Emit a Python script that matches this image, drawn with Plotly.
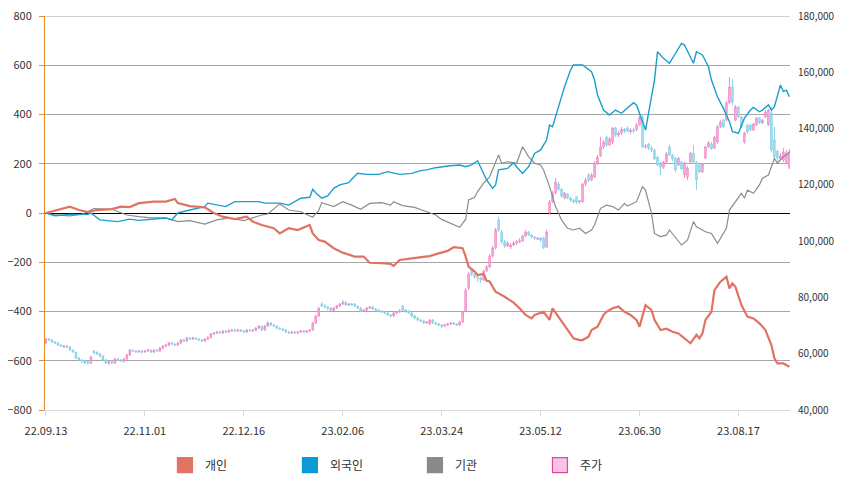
import plotly.graph_objects as go

# ---------------- data ----------------
tick_idx = [0, 33, 66, 99, 132, 165, 198, 231]
tick_labels = ["22.09.13", "22.11.01", "22.12.16", "23.02.06", "23.03.24", "23.05.12", "23.06.30", "23.08.17"]

# stock price candles (one per trading day, index 0..248)
opens = [
63800,65200,64900,64200,63800,63100,62400,62700,62400,61300,
60600,58500,57800,57400,57100,56700,61000,60600,60000,59200,
57800,56700,57100,56700,58100,57800,57400,58100,59500,61300,
61000,60600,61000,60600,61000,61300,60600,61300,61000,62000,
62700,63100,63800,63400,63100,63800,64900,64500,65600,65200,
65600,65200,64900,64500,65200,65600,67000,67400,67700,67400,
68100,67700,68100,68400,68100,68400,68100,67700,68400,68100,
68400,69100,69800,68400,69800,70900,70200,69800,69100,68800,
68400,67700,67400,67700,67400,67700,68100,67700,68100,68400,
70900,73400,77700,77000,76600,76200,75200,76200,77000,77700,
78300,77300,77700,77700,76900,76200,75200,75500,76200,76600,
75900,75500,75200,74800,74500,73800,73400,74500,74800,76900,
75500,75200,74500,73400,72700,72000,71600,70900,70600,72000,
70900,70600,70200,69800,70200,70600,70900,70600,70200,71300,
75200,83300,89700,88300,87300,86900,86200,89400,90800,94700,
97600,107500,103200,99700,98300,97900,98600,99300,99700,100100,
101800,103200,102200,101500,100700,101100,101100,97900,110000,113900,
117100,120300,118500,115300,116700,115300,114600,115700,113900,114000,
120300,123500,121700,122800,127800,130300,133500,137000,134200,135200,
140200,137700,138400,139800,140200,138800,139500,139500,141300,144100,
133500,134500,133100,132400,129900,127500,126300,128100,133500,130600,
129500,127100,128100,123500,122800,128100,131300,128000,127100,124600,
129500,133500,134600,133100,135200,140600,143000,143000,149100,154800,
143000,147700,144100,135200,141300,141300,139500,141300,143800,142000,
144100,141300,145500,136000,132000,129200,128800,128000,126300]

closes = [
65200,64900,64200,63800,63100,62700,62700,62400,61300,60600,
58500,57800,57400,56700,56700,58800,60300,60000,59200,57800,
56700,57100,56700,58100,57800,57400,58100,59500,61300,61000,
60600,61000,60600,61000,61300,60600,61300,61000,62000,62700,
63100,63800,63400,63100,63800,64900,64500,65600,65200,65600,
65200,64900,64500,65200,65600,67000,67400,67700,67400,68100,
67700,68100,68400,68100,68400,68100,67700,68400,68100,68400,
69100,69800,68400,69800,70900,70200,69800,69100,68800,68400,
67700,67400,67700,67400,67700,68100,67700,68100,68400,70900,
73400,76200,77000,76600,76200,75500,76200,77000,77700,78300,
77300,77700,77300,76900,76200,75200,75500,76200,76600,75900,
75500,75200,74800,74500,73800,73400,74500,74800,75200,75500,
75200,74500,73400,72700,72000,71600,70900,71300,72000,70900,
70600,70200,69800,70200,70600,70900,70600,70200,71300,74800,
82600,88300,88300,87300,86900,86200,89400,90800,94700,97600,
104000,104000,99700,98300,99300,98600,99300,99700,100100,101800,
103200,102200,101500,101100,101100,100400,97600,103200,113900,117100,
121000,118500,116000,117100,115300,114600,113900,113900,114300,120300,
121700,121700,123500,127800,129900,133500,135200,134200,136300,140200,
137700,138400,139800,139100,139100,139500,139100,141300,143800,133500,
133800,133100,132400,129200,127100,126300,128100,131000,130600,129200,
125300,129500,125600,127800,126000,131300,128100,121700,124600,127500,
133500,134900,132800,137000,140600,142300,140600,149100,154800,149400,
147700,144100,140600,138400,138800,139500,141600,143800,142000,143000,
145900,146600,132400,129900,129500,130300,131700,131300,131700]

highs = [
65600,65600,65200,64500,64200,63400,63100,63100,62700,61600,
60600,58800,58100,57800,57400,59200,61300,60600,60300,59500,
58100,57400,57800,58500,58500,58100,58500,59900,61600,61600,
61300,61300,61300,61300,61600,61600,61600,61600,62400,63100,
63400,64200,64200,63800,64200,65200,65200,66000,66000,66000,
65900,65600,65200,65600,66300,67400,67700,68100,68100,68400,
68400,68800,68800,68800,68800,68800,68400,68800,68800,68800,
69500,70200,69800,70200,71600,71300,70600,70200,69500,69100,
68800,68100,68100,68100,68100,68400,68400,68400,68800,71300,
73800,76600,78300,77700,77000,76600,76600,77300,78000,79000,
78700,78000,78000,78000,77300,76600,75900,76600,77000,77000,
76200,75900,75500,75200,74800,74100,74800,75200,75900,77300,
75900,75500,74800,73800,73000,72300,72000,71600,72300,72300,
71300,70900,70600,70600,70900,71300,71300,70900,71600,75200,
83300,89000,90400,88600,88000,87300,89700,91500,95400,98300,
104700,108600,104000,100400,100100,99300,100100,100400,101100,102200,
103900,103600,102500,101800,101500,101500,101500,104000,114600,117800,
122400,121000,118900,117500,117100,115700,115000,116000,114600,120700,
122400,124200,124200,128500,130600,137000,135900,137400,137000,140600,
140600,139100,140600,140200,140900,140200,140200,142000,144500,145200,
134500,134900,133800,132800,130300,128100,128500,131700,134200,131000,
129900,129900,128500,128100,126700,131700,134200,128500,127500,127800,
133800,135500,135200,137400,141300,143000,143400,149800,158300,157600,
148400,148100,144500,138800,141600,141600,142000,144100,144100,143400,
146600,147000,147700,140600,132400,131300,133100,132400,132800]

lows = [
63400,64500,63800,63400,62700,62400,62000,62000,61000,60300,
58100,57400,56700,56300,56000,56300,59900,59500,58800,57400,
56300,56000,56300,56300,57400,57100,56700,57800,59200,60600,
60300,60300,60000,60300,60600,60300,60300,60600,60600,61600,
62400,62700,63100,62700,62700,63400,64200,64200,64900,64900,
64900,64500,64200,64200,64900,65600,66700,67000,67000,67000,
67400,67400,67700,67700,67700,67700,67400,67400,67700,67700,
68100,68800,68100,68100,69500,69800,69500,68800,68400,68100,
67400,67000,67000,67000,67000,67400,67400,67400,67700,68100,
70600,73000,76600,76200,75500,75200,74800,75900,76600,77300,
77000,77000,77000,76600,75900,74800,74800,75200,75900,75500,
75200,74800,74500,74100,73400,73000,73000,74100,74500,75200,
74500,74100,73000,72300,71600,71300,70600,70600,70200,70600,
70200,69800,69100,69500,69800,70200,70200,69800,69800,71000,
74800,82600,87600,86500,85500,85100,85800,89000,90400,94300,
97200,103200,99000,97600,97900,97200,98300,98600,99300,99700,
101500,101800,101100,100400,100400,99700,97200,97600,109300,113500,
116700,117800,115300,114900,114900,113900,113500,113200,113200,113600,
119600,121000,121300,122400,127100,129900,132800,133500,133800,134500,
137000,137000,137700,138400,138800,138100,138400,139100,141000,133100,
132800,132400,131700,128800,126700,123500,125600,127800,130300,128500,
124600,126700,125300,122400,121700,127500,127500,118200,124200,124200,
129200,133100,132400,132800,134600,140200,140200,142700,148800,148400,
142700,143800,140200,134600,138100,139100,139100,140900,141600,141600,
143800,140900,131700,128800,128500,128800,128100,127500,125600]

# cumulative net buying (left axis), sampled at trading-day indices
ind_idx = [0,5,8,11,14,17,22,25,28,31,36,40,43,44,48,53,56,59,63,67,69,72,76,78,81,84,86,88,89,91,
           93,96,99,103,106,108,112,115,116,118,122,128,131,134,136,139,140,141,143,144,146,147,148,150,
           153,156,158,160,162,163,166,168,169,171,173,175,176,178,179,181,182,184,186,187,189,191,193,195,
           197,198,200,202,203,205,207,209,211,213,215,217,218,219,220,222,223,225,227,228,229,230,232,234,
           236,238,240,242,243,244,246,248]
ind_val = [0,16,26,12,4,12,16,26,24,40,46,46,57,40,28,23,0,-15,-25,-15,-35,-49,-62,-83,-62,-69,-58,-49,-83,-110,
           -116,-143,-161,-177,-177,-202,-204,-207,-215,-191,-184,-175,-164,-154,-139,-143,-177,-218,-238,-252,
           -248,-275,-278,-320,-340,-364,-387,-414,-428,-414,-401,-434,-387,-421,-455,-489,-509,-516,-516,-502,
           -475,-462,-414,-401,-387,-380,-401,-414,-434,-462,-374,-394,-434,-475,-470,-482,-489,-509,-529,-495,
           -509,-489,-434,-401,-313,-279,-259,-306,-286,-300,-374,-421,-428,-448,-475,-536,-590,-611,-611,-624]

for_idx = [0,3,8,14,15,18,24,28,31,40,42,44,48,53,54,60,63,71,73,78,81,83,85,88,89,90,92,94,96,98,
           101,102,104,107,111,114,118,122,125,127,130,134,138,140,142,144,146,147,149,150,151,154,156,157,
           159,161,163,165,167,168,169,170,172,173,175,176,179,182,183,184,186,188,190,192,196,197,198,200,
           201,203,204,206,208,212,213,216,217,219,221,222,224,226,228,229,231,233,235,236,238,239,241,242,
           243,245,246,247,248]
for_val = [0,-11,-6,-5,0,-28,-35,-25,-30,-20,-28,0,12,26,40,26,46,46,40,40,32,46,60,64,96,82,60,69,100,114,
           123,137,161,157,157,168,157,161,172,175,184,191,195,188,195,212,161,134,100,114,175,181,204,188,
           161,188,242,256,296,357,350,391,479,513,581,601,601,574,540,479,418,398,418,405,448,439,405,337,
           405,540,655,628,608,689,682,608,655,642,594,540,472,425,371,330,324,385,418,429,411,418,439,418,
           432,520,493,499,472]

ins_idx = [0,3,8,12,13,16,22,27,31,35,40,44,48,53,57,61,66,69,72,74,78,81,83,85,88,89,91,92,96,99,
           102,105,108,112,115,116,119,123,127,130,132,136,138,140,141,143,144,146,148,151,152,154,157,159,
           161,163,165,166,168,170,172,174,176,178,180,182,183,185,187,189,191,193,194,197,199,200,202,203,
           205,207,208,212,214,216,217,220,222,224,226,227,228,230,232,233,234,236,238,239,241,242,243,244,
           246,247,248]
ins_val = [0,-8,-12,-5,0,18,15,-8,-15,-20,-20,-35,-31,-45,-28,-20,-31,-20,-8,-4,37,12,8,5,-12,-16,10,42,26,46,
           32,15,39,42,32,46,30,23,5,-8,-26,-49,-58,-26,53,64,87,121,147,236,202,208,202,269,
           229,202,195,175,107,26,-28,-62,-69,-62,-83,-69,-49,19,32,26,12,39,28,46,107,93,0,-83,
           -96,-90,-69,-130,-110,-35,-56,-76,-83,-123,-83,-62,12,46,80,60,93,80,114,141,154,188,222,202,
           229,235,249]

left_ticks = [-800, -600, -400, -200, 0, 200, 400, 600, 800]
right_ticks = [40000, 60000, 80000, 100000, 120000, 140000, 160000, 180000]

C_IND = "#E07363"
C_FOR = "#1A9FCD"
C_INS = "#8C8C8C"
FONT = "Noto Sans CJK KR, Noto Sans, sans-serif"
GRID = "#A6A6A6"

fig = go.Figure()

# candles on the base (right) axis so they sit behind the lines
fig.add_trace(go.Candlestick(
    x=list(range(len(opens))), open=opens, high=highs, low=lows, close=closes,
    xaxis="x", yaxis="y",
    increasing=dict(line=dict(color="#F08CC8", width=1), fillcolor="#F8C3E3"),
    decreasing=dict(line=dict(color="#88D2EA", width=1), fillcolor="#B5E4F3"),
    whiskerwidth=0, showlegend=False, hoverinfo="skip"))

fig.add_trace(go.Scatter(x=ins_idx, y=ins_val, mode="lines", yaxis="y2",
                         line=dict(color=C_INS, width=1.2), showlegend=False, hoverinfo="skip"))
fig.add_trace(go.Scatter(x=for_idx, y=for_val, mode="lines", yaxis="y2",
                         line=dict(color=C_FOR, width=1.4), showlegend=False, hoverinfo="skip"))
fig.add_trace(go.Scatter(x=ind_idx, y=ind_val, mode="lines", yaxis="y2",
                         line=dict(color=C_IND, width=2.2), showlegend=False, hoverinfo="skip"))

# legend entries
for name, col, edge in [("개인", C_IND, C_IND), ("외국인", "#0A9BD6", "#0A9BD6"),
                        ("기관", "#8A8A8A", "#8A8A8A"), ("주가", "#F9C3E4", "#E0489E")]:
    fig.add_trace(go.Scatter(x=[None], y=[None], mode="markers", yaxis="y2", name=name,
                             marker=dict(symbol="square", size=15, color=col,
                                         line=dict(color=edge, width=1.2))))

# top grid line at the upper edge of the left axis
fig.add_shape(type="line", xref="paper", x0=0, x1=1, yref="y2", y0=800, y1=800,
              line=dict(color=GRID, width=1), layer="below")

# the page adds an 8px body margin, so the figure is sized to fit the 842x484 window
fig.update_layout(
    width=834, height=476,
    margin=dict(l=37, r=52, t=8, b=74, autoexpand=False),
    paper_bgcolor="white", plot_bgcolor="white",
    font=dict(family=FONT, size=11, color="#333333"),
    xaxis=dict(range=[-0.3, 248.2], tickmode="array", tickvals=tick_idx, ticktext=tick_labels,
               showgrid=False, zeroline=False, showline=True, linecolor="#D9D9D9", linewidth=1,
               ticks="outside", ticklen=5, tickcolor="#D9D9D9", ticklabelstandoff=6,
               automargin=False, ticklabeloverflow="allow",
               rangeslider=dict(visible=False), tickfont=dict(size=11, color="#333333")),
    yaxis=dict(side="right", range=[40000, 180000], tickmode="array", tickvals=right_ticks,
               tickformat=",", showgrid=False, zeroline=False, showline=False, ticks="",
               automargin=False, ticklabeloverflow="allow",
               ticklabelstandoff=7, tickfont=dict(size=10, color="#333333")),
    yaxis2=dict(side="left", overlaying="y", range=[-800, 800], tickmode="array", tickvals=left_ticks,
                showgrid=True, gridcolor=GRID, gridwidth=1,
                zeroline=True, zerolinecolor="#000000", zerolinewidth=1,
                showline=True, linecolor="#E8892B", linewidth=1,
                ticks="outside", ticklen=5, tickcolor="#E8892B", ticklabelstandoff=5,
                automargin=False, ticklabeloverflow="allow",
                tickfont=dict(size=11, color="#333333")),
    legend=dict(orientation="h", x=0.161, xanchor="left", y=-0.14, yanchor="middle",
                entrywidth=80, entrywidthmode="pixels", font=dict(size=12, color="#333333"),
                bgcolor="rgba(0,0,0,0)"),
    hovermode=False,
)

fig.write_html("out.html")
